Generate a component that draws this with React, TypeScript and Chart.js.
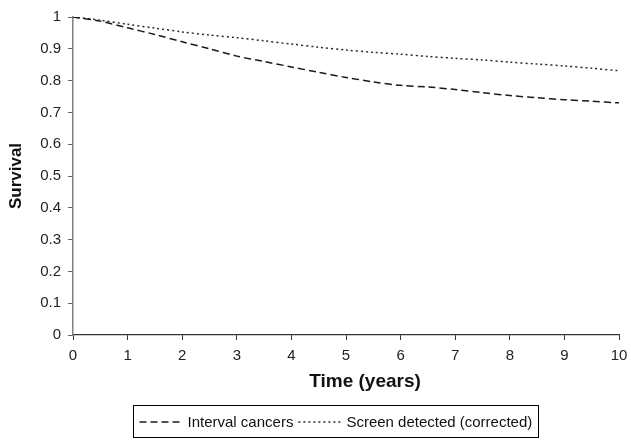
import React, { useEffect, useRef } from "react";
import { Chart, registerables } from "chart.js";

Chart.register(...registerables);

const years = [0, 0.5, 1, 1.5, 2, 2.5, 3, 3.5, 4, 4.5, 5, 5.5, 6, 6.5, 7, 7.5, 8, 8.5, 9, 9.5, 10];
const intervalCancers = [1, 0.987, 0.966, 0.945, 0.922, 0.9, 0.877, 0.86, 0.843, 0.826, 0.81, 0.796, 0.785, 0.78, 0.772, 0.762, 0.753, 0.746, 0.74, 0.735, 0.73];
const screenDetected = [1, 0.99, 0.977, 0.965, 0.953, 0.943, 0.935, 0.925, 0.915, 0.905, 0.896, 0.889, 0.883, 0.876, 0.87, 0.865, 0.858, 0.852, 0.846, 0.839, 0.831];
const seriesLabels = ["Interval cancers", "Screen detected (corrected)"];
const xTitle = "Time (years)";
const yTitle = "Survival";

const FONT = '"Liberation Sans", Arial, Helvetica, sans-serif';

const boxLegendPlugin = {
  id: "boxLegend",
  afterDraw(chart: any) {
    const { ctx, chartArea } = chart;
    ctx.save();
    // x axis title
    ctx.font = `bold 19px ${FONT}`;
    ctx.fillStyle = "#111";
    ctx.textAlign = "center";
    ctx.textBaseline = "middle";
    ctx.fillText(xTitle, (chartArea.left + chartArea.right) / 2 + 19, chartArea.bottom + 47);

    // boxed legend
    ctx.font = `15px ${FONT}`;
    const items = chart.data.datasets.map((ds: any) => ({
      label: ds.label,
      dash: ds.borderDash || [],
      color: ds.borderColor,
    }));
    const sampleW = 44;
    const gapS = 4;
    const gapItem = 5;
    const padL = 6;
    const padR = 5;
    let total = padL + padR;
    items.forEach((it: any, i: number) => {
      total += sampleW + gapS + ctx.measureText(it.label).width + (i < items.length - 1 ? gapItem : 0);
    });
    const cx = (chartArea.left + chartArea.right) / 2 - 10;
    const left = Math.round(cx - total / 2) - 0.5;
    const top = Math.round(chartArea.bottom + 70) + 0.5;
    const h = 32;
    ctx.strokeStyle = "#000";
    ctx.lineWidth = 1;
    ctx.setLineDash([]);
    ctx.strokeRect(left, top, Math.round(total) + 1, h);
    let x = left + padL;
    const y = Math.round(top + h / 2);
    ctx.textAlign = "left";
    items.forEach((it: any) => {
      ctx.setLineDash(it.dash);
      ctx.strokeStyle = it.color;
      ctx.lineWidth = 1.3;
      ctx.beginPath();
      ctx.moveTo(x, y);
      ctx.lineTo(x + sampleW, y);
      ctx.stroke();
      x += sampleW + gapS;
      ctx.fillStyle = "#111";
      ctx.fillText(it.label, x, y + 1);
      x += ctx.measureText(it.label).width + gapItem;
    });
    ctx.restore();
  },
};

export default function App() {
  const ref = useRef<HTMLCanvasElement | null>(null);

  useEffect(() => {
    if (!ref.current) return;
    Chart.defaults.font.family = FONT;
    const chart = new Chart(ref.current, {
      type: "line",
      data: {
        datasets: [
          {
            label: seriesLabels[0],
            data: years.map((t, i) => ({ x: t, y: intervalCancers[i] })),
            borderColor: "#1a1a1a",
            borderWidth: 1.5,
            borderDash: [7, 4],
            pointRadius: 0,
            tension: 0.3,
            fill: false,
          },
          {
            label: seriesLabels[1],
            data: years.map((t, i) => ({ x: t, y: screenDetected[i] })),
            borderColor: "#2a2a2a",
            borderWidth: 1.5,
            borderDash: [2, 3],
            pointRadius: 0,
            tension: 0.3,
            fill: false,
          },
        ],
      },
      options: {
        animation: false,
        responsive: true,
        maintainAspectRatio: false,
        layout: { padding: { top: 17, right: 12, left: 0, bottom: 0 } },
        plugins: {
          legend: { display: false },
          tooltip: { enabled: false },
        },
        scales: {
          x: {
            type: "linear",
            min: 0,
            max: 10,
            ticks: {
              stepSize: 1,
              color: "#222",
              font: { size: 15 },
              padding: 7,
              maxRotation: 0,
            },
            grid: {
              drawOnChartArea: false,
              drawTicks: true,
              tickLength: 5,
              tickColor: "#333",
            },
            border: { color: "#333", width: 1.2 },
            title: { display: false },
            afterFit: (scale: any) => {
              scale.height = 105;
              scale.paddingRight = 9;
            },
          },
          y: {
            type: "linear",
            min: 0,
            max: 1,
            ticks: {
              stepSize: 0.1,
              color: "#222",
              font: { size: 15 },
              padding: 7,
              callback: (v: any) => String(Number(Number(v).toFixed(1))),
            },
            grid: {
              drawOnChartArea: false,
              drawTicks: true,
              tickLength: 5,
              tickColor: "#666",
            },
            border: { color: "#808080", width: 1.5 },
            title: {
              display: true,
              text: yTitle,
              color: "#111",
              font: { size: 17, weight: "bold" },
              padding: { top: 6, bottom: 0 },
            },
            afterFit: (scale: any) => {
              scale.width = 73;
            },
          },
        },
      },
      plugins: [boxLegendPlugin],
    });
    return () => chart.destroy();
  }, []);

  return (
    <div style={{ position: "fixed", left: 0, top: 0, width: 631, height: 440, background: "#fff" }}>
      <canvas ref={ref} />
    </div>
  );
}
